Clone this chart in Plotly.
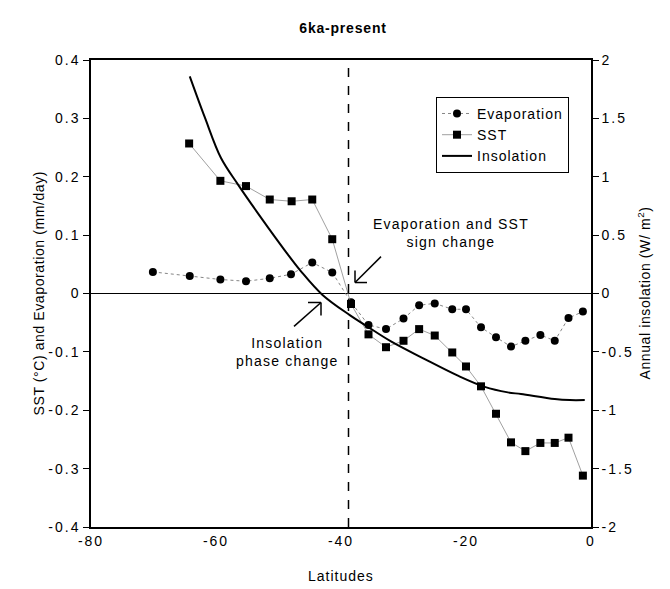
import plotly.graph_objects as go

# ---- data ----
evap_lat = [-70.1, -64.2, -59.3, -55.2, -51.4, -48.0, -44.6, -41.4, -38.4, -35.6, -32.8, -30.0,
            -27.5, -25.0, -22.2, -20.0, -17.6, -15.2, -12.8, -10.5, -8.1, -5.8, -3.6, -1.3]
evap_val = [0.037, 0.030, 0.024, 0.021, 0.026, 0.033, 0.053, 0.036, -0.015, -0.054, -0.061, -0.043,
            -0.020, -0.017, -0.027, -0.027, -0.058, -0.075, -0.091, -0.081, -0.071, -0.081, -0.042, -0.031]

sst_lat = [-64.3, -59.3, -55.2, -51.4, -47.9, -44.6, -41.4, -38.4, -35.6, -32.8, -30.0, -27.5,
           -25.0, -22.2, -20.0, -17.6, -15.2, -12.8, -10.5, -8.1, -5.8, -3.6, -1.3]
sst_val = [0.257, 0.193, 0.184, 0.161, 0.158, 0.161, 0.093, -0.018, -0.070, -0.092, -0.081, -0.061,
           -0.072, -0.101, -0.125, -0.159, -0.206, -0.255, -0.270, -0.256, -0.256, -0.247, -0.312]

ins_lat = [-64.2, -61.8, -59.2, -56.5, -52.8, -49.0, -46.4, -43.0, -38.6, -36.0, -32.0, -26.6,
           -21.3, -17.0, -13.3, -11.2, -5.8, -3.4, -1.0]
ins_val = [1.86, 1.51, 1.16, 0.935, 0.65, 0.37, 0.19, -0.01, -0.185, -0.275, -0.41, -0.562,
           -0.704, -0.80, -0.847, -0.861, -0.904, -0.913, -0.913]

x_ticks = [-80, -60, -40, -20, 0]
x_ticktext = ["-80", "-60", "-40", "-20", "0"]
y_ticks = [0.4, 0.3, 0.2, 0.1, 0, -0.1, -0.2, -0.3, -0.4]
y_ticktext = ["0.4", "0.3", "0.2", "0.1", "0", "-0.1", "-0.2", "-0.3", "-0.4"]
y2_ticks = [2, 1.5, 1, 0.5, 0, -0.5, -1, -1.5, -2]
y2_ticktext = ["2", "1.5", "1", "0.5", "0", "-0.5", "-1", "-1.5", "-2"]

sign_change_lat = -38.8

FONT = "Liberation Sans, Arial, sans-serif"


def ls(text, px=1.5):
    """wrap text in a letter-spaced span (mimics the spaced type of the original)"""
    return f'<span style="letter-spacing:{px}px">{text}</span>'


fig = go.Figure()
fig.add_trace(go.Scatter(x=evap_lat, y=evap_val, name=ls("Evaporation", 1), mode="lines+markers",
                         line=dict(color="#666666", width=0.8, dash="dot"),
                         marker=dict(symbol="circle", size=8, color="black")))
fig.add_trace(go.Scatter(x=sst_lat, y=sst_val, name=ls("SST", 1), mode="lines+markers",
                         line=dict(color="#777777", width=0.7),
                         marker=dict(symbol="square", size=8, color="black")))
fig.add_trace(go.Scatter(x=ins_lat, y=ins_val, name=ls("Insolation", 1), mode="lines", yaxis="y2",
                         line=dict(color="black", width=2, shape="spline", smoothing=1.0)))

shapes = [
    dict(type="line", xref="x", yref="y", x0=sign_change_lat, x1=sign_change_lat, y0=-0.4, y1=0.4,
         line=dict(color="black", width=1.5, dash="dash")),
]


def varrow(tail, head, leg1, leg2):
    out = [dict(type="line", xref="x", yref="y", x0=tail[0], y0=tail[1], x1=head[0], y1=head[1],
                line=dict(color="black", width=1.5))]
    for lg in (leg1, leg2):
        out.append(dict(type="line", xref="x", yref="y", x0=head[0], y0=head[1], x1=lg[0], y1=lg[1],
                        line=dict(color="black", width=1.5)))
    return out


shapes += varrow((-33.6, 0.0632), (-37.76, 0.0188), (-37.76, 0.0393), (-35.84, 0.0188))
shapes += varrow((-47.52, -0.0564), (-43.2, -0.0154), (-45.28, -0.0154), (-43.2, -0.0376))

annotations = [
    dict(text=ls("Evaporation and SST", 1.2) + "<br>" + ls("sign change", 1.2), x=-22.4, y=0.103,
         xref="x", yref="y", showarrow=False, font=dict(family=FONT, size=14, color="black"),
         align="center"),
    dict(text=ls("Insolation", 1.2) + "<br>" + ls("phase change", 1.2), x=-48.6, y=-0.101,
         xref="x", yref="y", showarrow=False, font=dict(family=FONT, size=14, color="black"),
         align="center"),
    dict(text=ls("SST (°C) and Evaporation (mm/day)", 0.6), x=-0.126, y=0.5, xref="paper", yref="paper",
         textangle=-90, showarrow=False, font=dict(family=FONT, size=14, color="black")),
    dict(text=ls("Annual insolation (W/ m<sup>2</sup>)", 0.6), x=1.128, y=0.5, xref="paper",
         yref="paper", textangle=-90, showarrow=False, font=dict(family=FONT, size=14, color="black")),
    dict(text=ls("Latitudes", 1), x=0.5, y=-0.126, xref="paper", yref="paper",
         showarrow=False, font=dict(family=FONT, size=14, color="black")),
]

fig.update_layout(
    width=670, height=589,
    margin=dict(l=83, r=87, t=52, b=70),
    paper_bgcolor="white", plot_bgcolor="white",
    font=dict(family=FONT, size=14, color="black"),
    title=dict(text="<b>" + ls("6ka-present", 0.8) + "</b>", x=0.5, xref="container", y=0.966,
               yref="container", yanchor="middle", xanchor="center",
               font=dict(family=FONT, size=14, color="black")),
    xaxis=dict(range=[-80, 0], tickvals=x_ticks, ticktext=[ls(t, 2) for t in x_ticktext],
               showgrid=False, zeroline=False, showline=True, linecolor="black", linewidth=1.5,
               mirror=True, ticks="", tickfont=dict(size=14)),
    yaxis=dict(range=[-0.4, 0.4], tickvals=y_ticks, ticktext=[ls(t, 2) for t in y_ticktext],
               showgrid=False, zeroline=True, zerolinecolor="black", zerolinewidth=1,
               showline=True, linecolor="black", linewidth=1.5, ticks="outside", ticklen=6,
               tickcolor="black", tickfont=dict(size=14)),
    yaxis2=dict(range=[-2, 2], tickvals=y2_ticks, ticktext=[ls(t, 2) for t in y2_ticktext],
                overlaying="y", side="right", showgrid=False, zeroline=False, showline=True,
                linecolor="black", linewidth=1.5, ticks="outside", ticklen=6, tickcolor="black",
                tickfont=dict(size=14)),
    legend=dict(x=0.69, y=0.921, xanchor="left", yanchor="top", bgcolor="white",
                bordercolor="black", borderwidth=1, font=dict(size=14),
                tracegroupgap=0, itemwidth=30),
    showlegend=True,
    shapes=shapes,
    annotations=annotations,
)

fig.write_html("out.html")
